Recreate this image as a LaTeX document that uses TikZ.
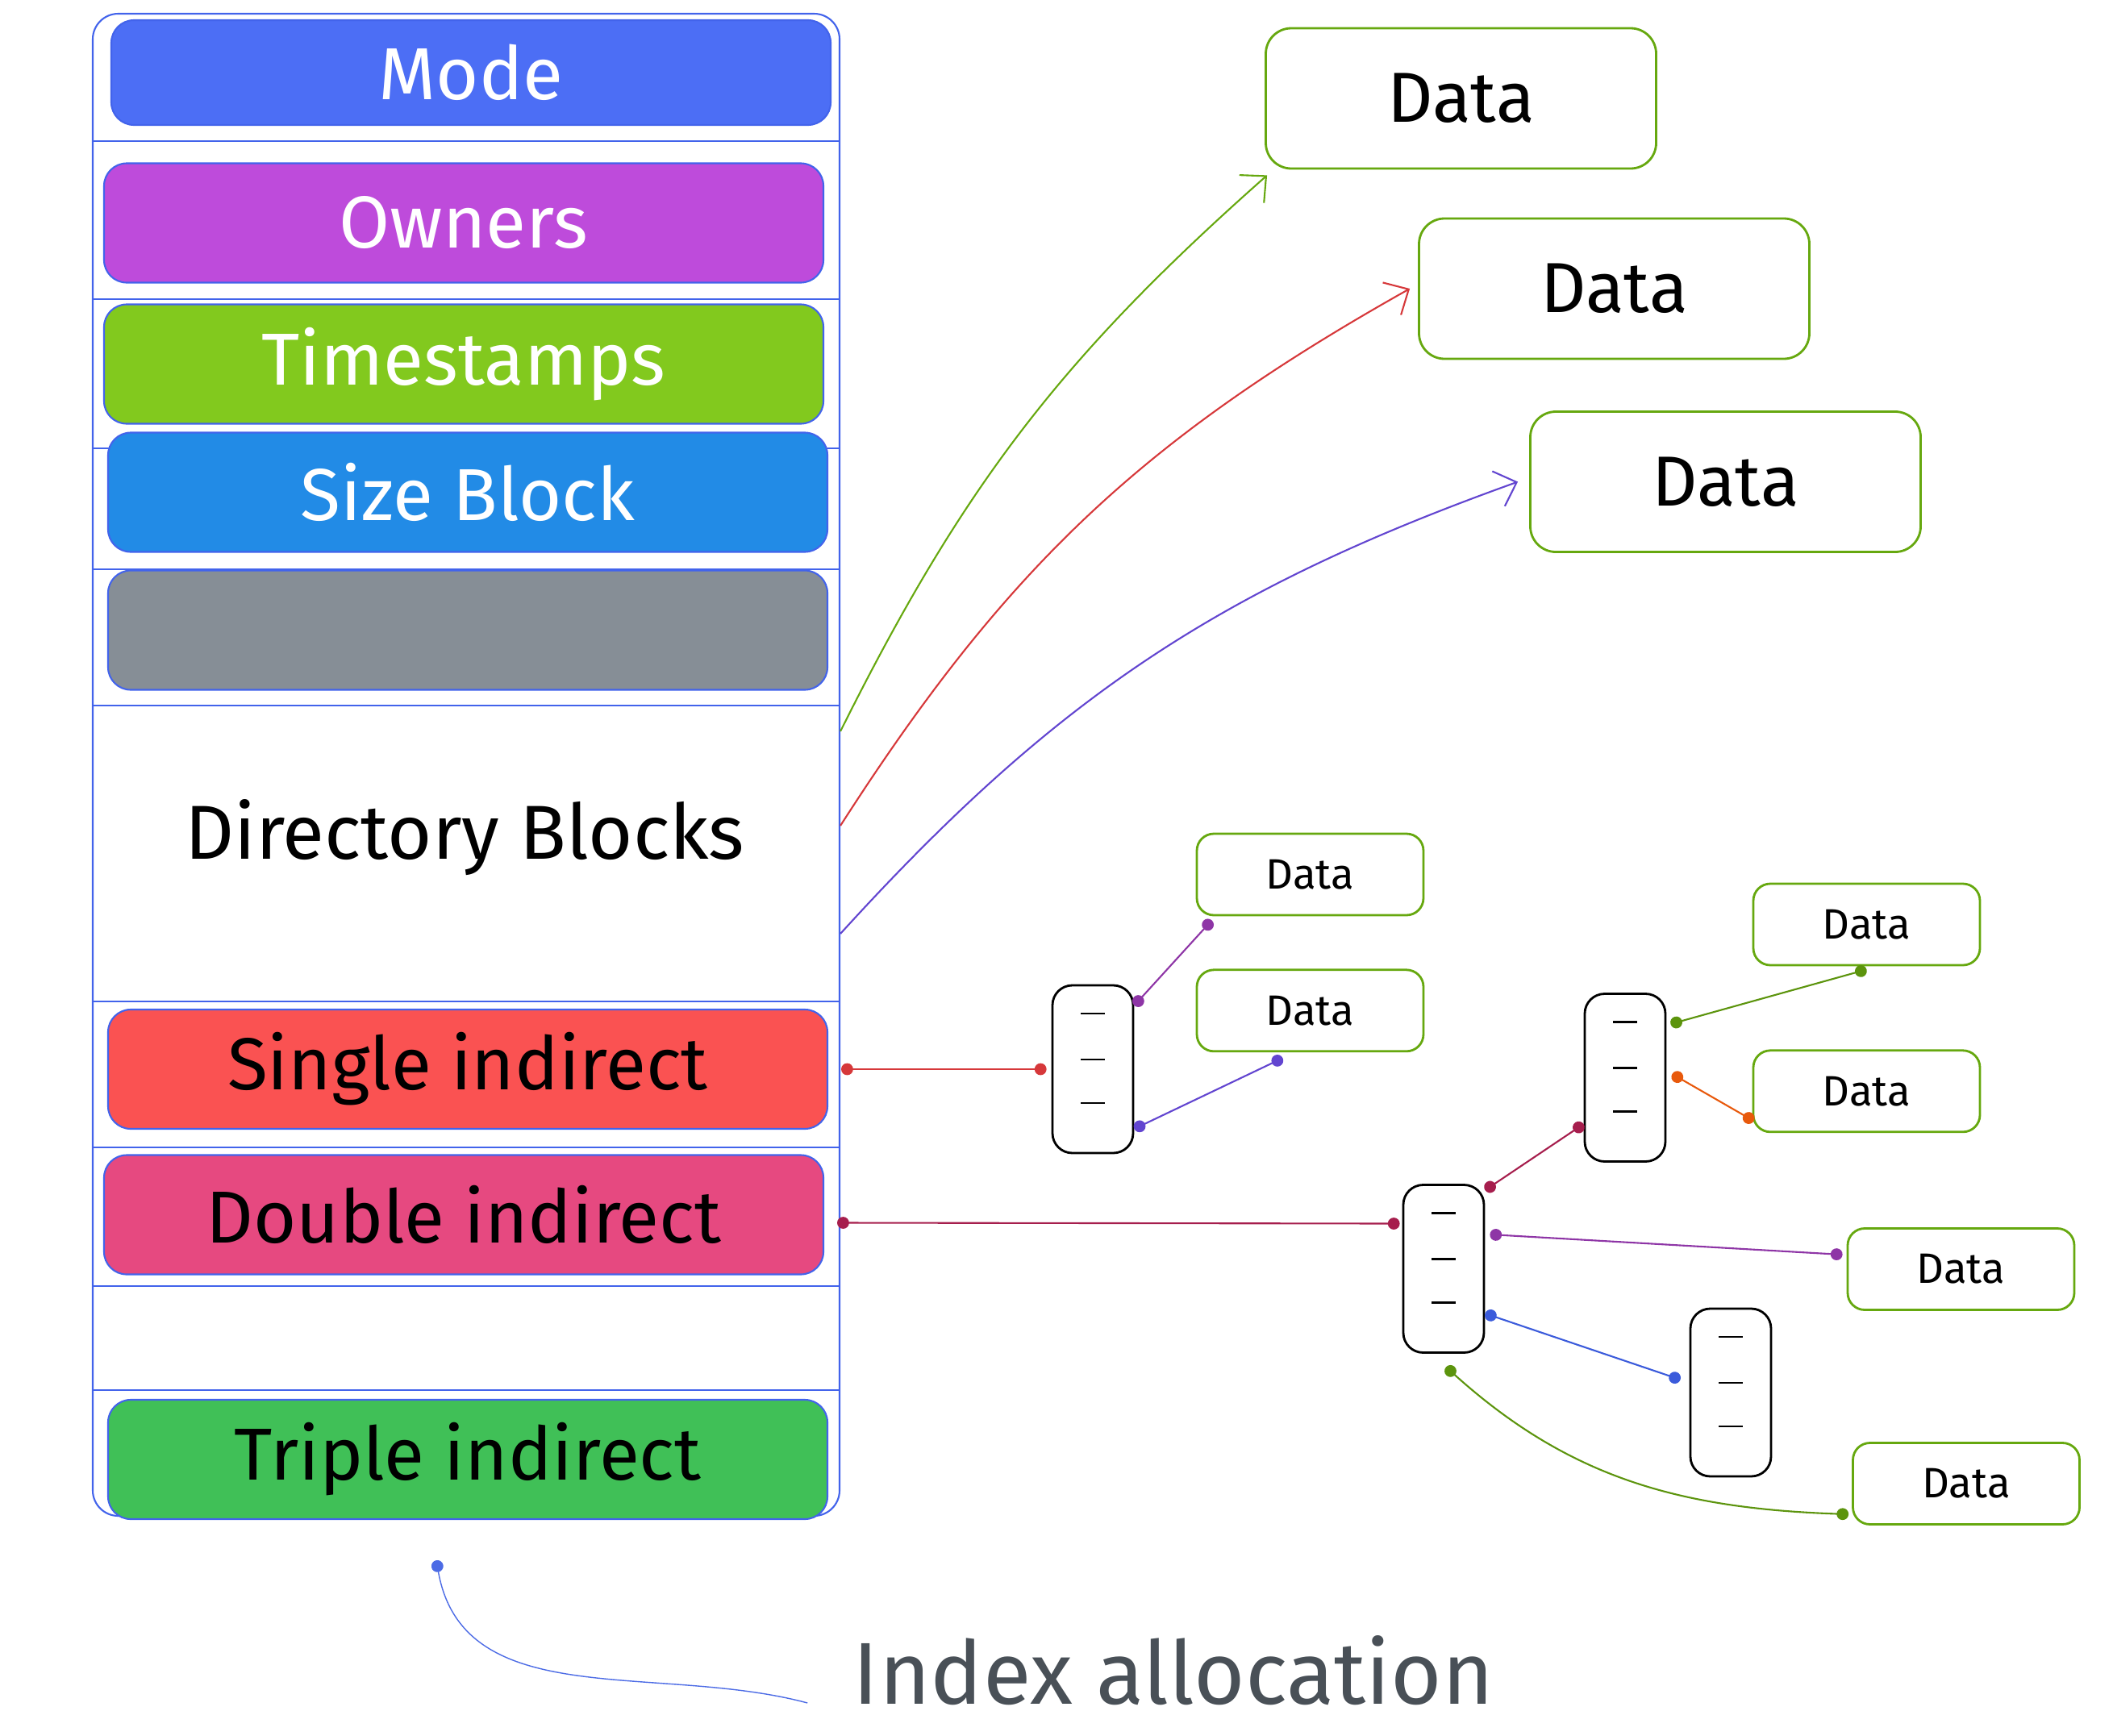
\documentclass[tikz,border=0pt]{standalone}
\usepackage{fontspec}
\setmainfont{Fira Sans}
\definecolor{exblue}{HTML}{4C6EF5}
\definecolor{exgrape}{HTML}{BE4BDB}
\definecolor{exlime}{HTML}{82C91E}
\definecolor{exsky}{HTML}{228BE6}
\definecolor{exgray}{HTML}{868E96}
\definecolor{exred}{HTML}{FA5252}
\definecolor{expink}{HTML}{E64980}
\definecolor{exgreen}{HTML}{40C057}
\definecolor{exline}{HTML}{4263EB}
\definecolor{exleaf}{HTML}{66A80F}
\definecolor{exink}{HTML}{495057}
\definecolor{lkred}{HTML}{D6383A}
\definecolor{lkwine}{HTML}{A61E4D}
\definecolor{lkgrape}{HTML}{8E35A6}
\definecolor{lkviolet}{HTML}{6245D0}
\definecolor{lkgreen}{HTML}{5C940D}
\definecolor{lkorange}{HTML}{E8590C}
\definecolor{lkblue}{HTML}{3B5BDB}
\definecolor{lkpale}{HTML}{748FFC}
\usetikzlibrary{arrows.meta,positioning}

\begin{document}
\begin{tikzpicture}[
  bar/.style={draw=exline,semithick,rounded corners=8pt,fill=#1,minimum width=89.2mm,
    minimum height=14.8mm,font=\fontsize{26}{30}\selectfont,text=white},
  sep/.style={exline,semithick},
  data/.style={draw=exleaf,thick,rounded corners=9pt,minimum width=48.4mm,
    minimum height=17.4mm,font=\fontsize{25}{30}\selectfont},
  sdata/.style={draw=exleaf,thick,rounded corners=6pt,minimum width=28.1mm,
    minimum height=10.1mm,font=\fontsize{15}{18}\selectfont},
  iblk/.style={draw,thick,rounded corners=7pt,minimum width=10mm,minimum height=20.8mm},
  arr/.style={-{Straight Barb[length=2.4mm,width=4.6mm]},semithick},
  lnk/.style={{Circle[length=4.2pt]}-{Circle[length=4.2pt]},semithick}]
  \useasboundingbox (0,0) rectangle (26.2,-21.53);
  \node[draw=exline,semithick,rounded corners=9pt,minimum width=92.6mm,minimum height=186.3mm]
    (inode) at (5.78,-9.485) {};
  \foreach \y in {1.75,3.71,5.56,7.06,8.75,12.42,14.23,15.95,17.24}
    \draw[sep] (1.15,-\y) -- (10.41,-\y);
  \node[bar=exblue,minimum height=13mm] (mode) at (5.84,-0.90) {Mode};
  \node[bar=exgrape] (owners) at (5.75,-2.765) {Owners};
  \node[bar=exlime] (stamps) at (5.75,-4.515) {Timestamps};
  \node[bar=exsky] (size) at (5.80,-6.105) {Size Block};
  \node[bar=exgray] (spare) at (5.80,-7.815) {};
  \node[font=\fontsize{27}{32}\selectfont] (dirs) at (5.76,-10.39) {Directory Blocks};
  \node[bar=exred,text=black] (single) at (5.80,-13.26) {Single indirect};
  \node[bar=expink,text=black] (double) at (5.75,-15.065) {Double indirect};
  \node[bar=exgreen,text=black] (triple) at (5.80,-18.10) {Triple indirect};

  \node[data] (d1) at (18.115,-1.22) {Data};
  \node[data] (d2) at (20.015,-3.58) {Data};
  \node[data] (d3) at (21.395,-5.975) {Data};
  \draw[arr,exleaf] ([yshift=4.15mm]inode.east) to[bend left=11] ([shift={(0.3mm,-0.7mm)}]d1.south west);
  \draw[arr,lkred] ([yshift=-7.55mm]inode.east) to[bend left=14] ([xshift=-1mm]d2.west);
  \draw[arr,lkviolet] ([yshift=-20.95mm]inode.east) to[bend left=14] ([xshift=-1.4mm]d3.west);

  \node[iblk] (ib1) at (13.55,-13.26) {};
  \node[iblk] (ib2) at (20.15,-13.365) {};
  \node[iblk] (ib3) at (17.90,-15.735) {};
  \node[iblk] (ib4) at (21.46,-17.27) {};
  \foreach \b in {ib1,ib2,ib3,ib4}
    \foreach \dy in {6.9,1.2,-4.2}
      \draw[thick] ([shift={(-1.5mm,\dy mm)}]\b.center) -- ++(3mm,0);

  \node[sdata] (s1) at (16.245,-10.845) {Data};
  \node[sdata,below=6.5mm of s1] (s2) {Data};
  \node[sdata] (s3) at (23.145,-11.465) {Data};
  \node[sdata,below=10.3mm of s3] (s4) {Data};
  \node[sdata] (s5) at (24.315,-15.74) {Data};
  \node[sdata] (s6) at (24.38,-18.40) {Data};

  \draw[lnk,lkred] ([xshift=1.6mm]single.east) -- ([xshift=-0.6mm]ib1.west);
  \draw[lnk,lkgrape] ([yshift=7.9mm]ib1.east) -- ([shift={(2mm,-0.5mm)}]s1.south west);
  \draw[lnk,lkviolet] ([yshift=-7.4mm]ib1.east) -- ([shift={(-3.4mm,-0.7mm)}]s2.south);
  \draw[lnk,lkwine] ([shift={(1.6mm,-1mm)}]double.east) -- ([shift={(-0.3mm,5.6mm)}]ib3.west);
  \draw[lnk,lkwine] ([yshift=-0.8mm]ib3.north east) -- ([yshift=-5.75mm]ib2.west);
  \draw[lnk,lkgreen] ([shift={(0.5mm,6.65mm)}]ib2.east) -- ([yshift=-0.4mm]s3.south);
  \draw[lnk,lkorange] ([shift={(0.7mm,0.45mm)}]ib2.east) -- ([shift={(0.2mm,1.5mm)}]s4.south west);
  \draw[lnk,lkgrape] ([shift={(0.6mm,4.25mm)}]ib3.east) -- ([shift={(-0.5mm,1.8mm)}]s5.west);
  \draw[lnk,lkblue] ([yshift=-5.55mm]ib3.east) -- ([shift={(-1.1mm,1.6mm)}]ib4.west);
  \draw[lnk,lkgreen] ([shift={(0.3mm,-1.65mm)}]ib3.south) to[out=-42,in=178] ([shift={(-0.4mm,-3.8mm)}]s6.west);

  \node[inner sep=0pt,text=exink,font=\fontsize{31}{36}\selectfont] (idx) at (14.55,-20.72) {Index allocation};
  \draw[{Circle[length=4.2pt]}-,lkblue!70!lkpale] ([shift={(-3.9mm,-5mm)}]triple.south)
    to[out=-80,in=165] ([shift={(-5.6mm,-4mm)}]idx.west);
\end{tikzpicture}
\end{document}
